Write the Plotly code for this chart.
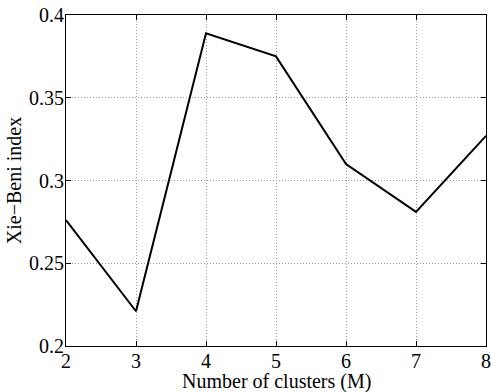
import plotly.graph_objects as go

clusters = [2, 3, 4, 5, 6, 7, 8]
xie_beni = [0.276, 0.221, 0.389, 0.375, 0.310, 0.281, 0.327]
x_ticks = [2, 3, 4, 5, 6, 7, 8]
y_ticks = [0.2, 0.25, 0.3, 0.35, 0.4]
y_tick_labels = ["0.2", "0.25", "0.3", "0.35", "0.4"]
x_title = "Number of clusters (M)"
y_title = "Xie\u2212Beni index"

font = dict(family="Liberation Serif", size=20, color="black")

fig = go.Figure()
fig.add_trace(go.Scatter(x=clusters, y=xie_beni, mode="lines",
                         line=dict(color="black", width=2), showlegend=False))

axis_common = dict(showline=True, linecolor="black", linewidth=1.2, mirror="ticks",
                   ticks="inside", ticklen=5, tickcolor="black", tickwidth=1,
                   showgrid=True, gridcolor="#999999", griddash="1px,2px", gridwidth=1,
                   zeroline=False, tickfont=font, automargin=False)

fig.update_layout(
    width=491, height=392,
    margin=dict(l=66, r=5, t=15, b=46),
    paper_bgcolor="white", plot_bgcolor="white",
    font=font,
    xaxis=dict(range=[2, 8], tickvals=x_ticks, ticktext=[str(v) for v in x_ticks],
               ticklabelstandoff=-3, **axis_common),
    yaxis=dict(range=[0.2, 0.4], tickvals=y_ticks, ticktext=y_tick_labels,
               ticklabelstandoff=-3,
               title=dict(text=y_title, font=font, standoff=1),
               **axis_common),
    annotations=[dict(text=x_title, xref="paper", yref="paper", x=0.5, y=0,
                      xanchor="center", yanchor="top", yshift=-22,
                      showarrow=False, font=font)],
)

fig.write_html("out.html", config={"displayModeBar": False},
               post_script="document.body.style.margin='0';document.body.style.overflow='hidden';")
